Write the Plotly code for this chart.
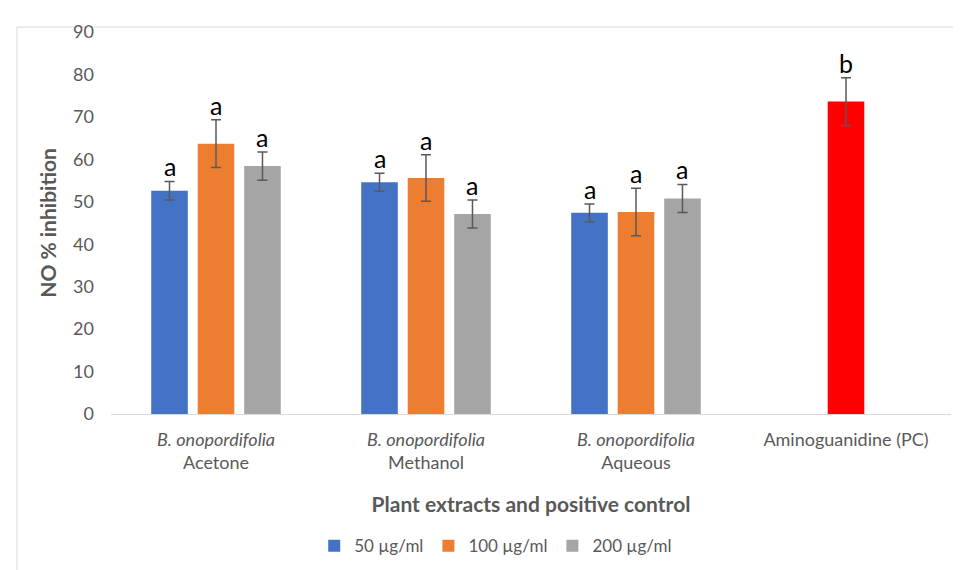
import plotly.graph_objects as go

categories = ["Acetone", "Methanol", "Aqueous", "PC"]
tick_labels = ["<i>B. onopordifolia</i><br>Acetone", "<i>B. onopordifolia</i><br>Methanol",
               "<i>B. onopordifolia</i><br>Aqueous", "Aminoguanidine (PC)"]
series_names = ["50 µg/ml", "100 µg/ml", "200 µg/ml"]
vals_50 = [52.6, 54.6, 47.4]
vals_100 = [63.7, 55.6, 47.6]
vals_200 = [58.4, 47.1, 50.8]
err_50 = [2.2, 2.1, 2.1]
err_100 = [5.6, 5.5, 5.6]
err_200 = [3.3, 3.3, 3.3]
letters_50 = ["a", "a", "a"]
letters_100 = ["a", "a", "a"]
letters_200 = ["a", "a", "a"]
pc_value = [73.6]
pc_err = [5.6]
pc_letter = ["b"]

colors = ["#4472C4", "#ED7D31", "#A5A5A5"]
pc_color = "#FF0000"
FONT = "Lato, 'Open Sans', sans-serif"
TXT = "#595959"
BARGAP = 0.336

fig = go.Figure()
all_vals = [vals_50, vals_100, vals_200]
all_errs = [err_50, err_100, err_200]
all_letters = [letters_50, letters_100, letters_200]
for i in range(3):
    fig.add_trace(go.Bar(
        x=categories[:3], y=all_vals[i], name=series_names[i],
        marker=dict(color=colors[i], line=dict(width=0)),
        offsetgroup=f"g{i}",
        error_y=dict(type="data", array=all_errs[i], color="#595959", thickness=1.5, width=5),
    ))
fig.add_trace(go.Bar(
    x=categories[3:], y=pc_value, name="PC", showlegend=False,
    marker=dict(color=pc_color, line=dict(width=0)),
    offsetgroup="g1",
    error_y=dict(type="data", array=pc_err, color="#595959", thickness=1.5, width=5),
))

slot = (1 - BARGAP) / 3
annotations = []
for i in range(3):
    for j in range(3):
        annotations.append(dict(
            x=j + (i - 1) * slot, y=all_vals[i][j] + all_errs[i][j], xref="x", yref="y",
            text=all_letters[i][j], showarrow=False, yanchor="bottom", yshift=-2,
            font=dict(family=FONT, size=25, color="#000000")))
annotations.append(dict(
    x=3, y=pc_value[0] + pc_err[0], xref="x", yref="y", text=pc_letter[0],
    showarrow=False, yanchor="bottom", yshift=-2,
    font=dict(family=FONT, size=25, color="#000000")))

fig.update_layout(
    width=961, height=570,
    margin=dict(l=103, r=18, t=18, b=164),
    paper_bgcolor="white", plot_bgcolor="white",
    barmode="group", bargap=BARGAP, bargroupgap=0.213,
    font=dict(family=FONT, size=17, color=TXT),
    showlegend=True,
    legend=dict(orientation="h", x=0.458, xanchor="center", y=-0.346, yanchor="middle",
                font=dict(family=FONT, size=17, color=TXT), traceorder="normal"),
    annotations=annotations,
    shapes=[dict(type="rect", xref="paper", yref="paper", x0=-0.1119, x1=1.1,
                 y0=-0.6, y1=1.0129, line=dict(color="#D9D9D9", width=1), layer="below")],
    xaxis=dict(
        type="category", categoryorder="array", categoryarray=categories,
        tickvals=categories, ticktext=tick_labels,
        showline=True, linecolor="#D9D9D9", linewidth=1, ticks="",
        showgrid=False, ticklabelstandoff=9,
        tickfont=dict(family=FONT, size=18, color=TXT),
        title=dict(text="<b>Plant extracts and positive control</b>", standoff=25,
                   font=dict(family=FONT, size=21, color=TXT)),
    ),
    yaxis=dict(
        range=[0, 90], dtick=10, showgrid=False, zeroline=False, showline=False,
        ticks="", ticklabelstandoff=16,
        tickfont=dict(family=FONT, size=18, color=TXT),
        title=dict(text="<b>NO % inhibition</b>", standoff=10,
                   font=dict(family=FONT, size=21, color=TXT)),
    ),
)
fig.write_html("out.html")
